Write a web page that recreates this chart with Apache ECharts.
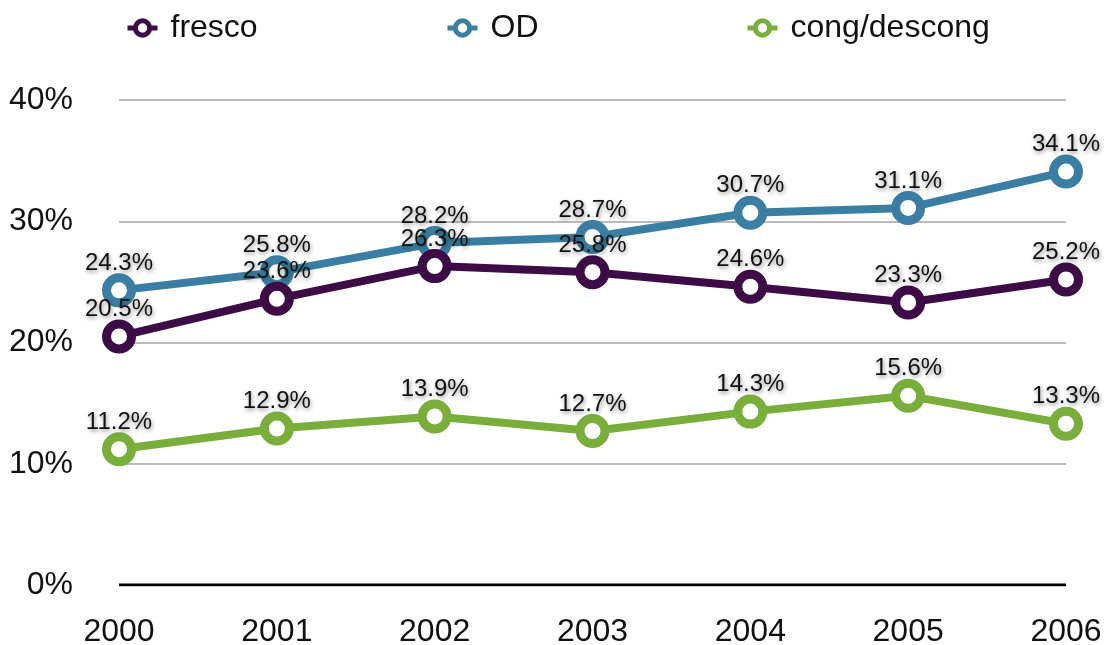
<!DOCTYPE html>
<html>
<head>
<meta charset="utf-8">
<script src="https://cdn.jsdelivr.net/npm/echarts@6/dist/echarts.min.js"></script>
<style>html,body{margin:0;padding:0;background:#fff}#c{width:1104px;height:645px}</style>
</head>
<body>
<div id="c"></div>
<script>
const years = ['2000','2001','2002','2003','2004','2005','2006'];
const fresco = [20.5, 23.6, 26.3, 25.8, 24.6, 23.3, 25.2];
const od = [24.3, 25.8, 28.2, 28.7, 30.7, 31.1, 34.1];
const cong = [11.2, 12.9, 13.9, 12.7, 14.3, 15.6, 13.3];
const colors = ['#3d0b45', '#3a7fa3', '#79ae3b'];
const FONT = '"Liberation Sans", Arial, sans-serif';

const chart = echarts.init(document.getElementById('c'));
function mk(name, data, color, z) {
  return {
    name, type: 'line', data, z,
    symbol: 'circle', symbolSize: 25,
    lineStyle: { width: 8, color },
    itemStyle: { color: '#fff', borderColor: color, borderWidth: 9 },
    label: {
      show: true, position: 'top', distance: -2,
      formatter: p => p.value.toFixed(1) + '%',
      fontFamily: FONT, fontSize: 24, color: '#111',
      textShadowColor: 'rgba(0,0,0,0.45)', textShadowBlur: 4, textShadowOffsetX: 1, textShadowOffsetY: 2
    },
    emphasis: { disabled: true },
    animation: false
  };
}
function lg(name, left) {
  return {
    data: [name], left, top: 7, itemWidth: 30, itemHeight: 18, itemGap: 0,
    itemStyle: { borderWidth: 5 },
    lineStyle: { width: 5 },
    textStyle: { fontFamily: FONT, fontSize: 32, color: '#111', padding: [0, 0, 0, 8] }
  };
}
chart.setOption({
  animation: false,
  color: colors,
  legend: [lg('fresco', 120), lg('OD', 440), lg('cong/descong', 740)],
  grid: { left: 119, right: 38, top: 100, bottom: 60, containLabel: false, outerBoundsMode: 'none' },
  xAxis: {
    type: 'category', data: years, boundaryGap: false,
    axisLine: { show: false }, axisTick: { show: false },
    axisLabel: { fontFamily: FONT, fontSize: 32, color: '#111', margin: 31 }
  },
  yAxis: {
    type: 'value', min: 0, max: 40, interval: 10,
    axisLabel: { formatter: '{value}%', fontFamily: FONT, fontSize: 32, color: '#111', margin: 46 },
    splitLine: { lineStyle: { color: '#bbbbbb', width: 2 } },
    axisLine: { show: false }, axisTick: { show: false }
  },
  series: [
    mk('cong/descong', cong, colors[2], 2),
    mk('OD', od, colors[1], 3),
    mk('fresco', fresco, colors[0], 4),
    {
      type: 'line', data: [0,0,0,0,0,0,0], symbol: 'none', silent: true,
      lineStyle: { color: '#000', width: 3 }, z: 1, tooltip: { show: false }
    }
  ]
});
</script>
</body>
</html>
